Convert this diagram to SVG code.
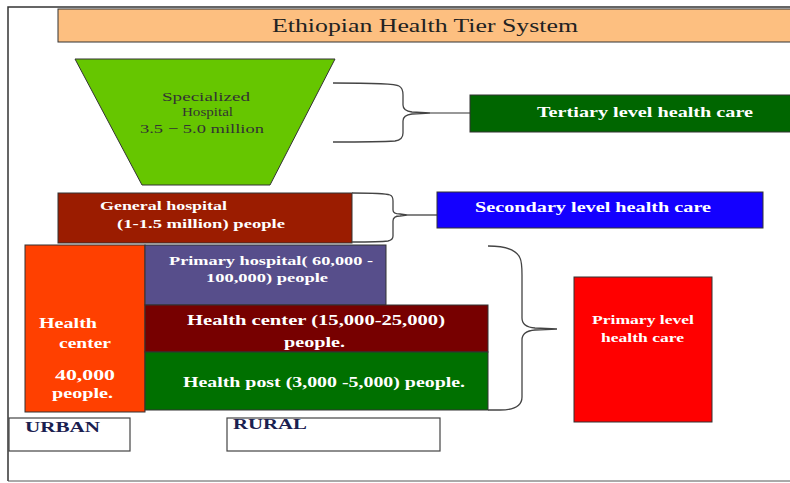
<svg xmlns="http://www.w3.org/2000/svg" width="790" height="483" viewBox="0 0 790 483">
<style>
text{font-family:"Liberation Serif","Times New Roman",serif}
.w{fill:#fff;font-weight:bold}
.bx{stroke:#333;stroke-width:1}
.br{fill:none;stroke:#444;stroke-width:1.3}
.lbl{fill:#1a2050;font-weight:bold;font-size:14px}
</style>
<rect x="0" y="0" width="790" height="483" fill="#fff"/>
<path d="M8,481 L8,7 L790,7" fill="none" stroke="#333" stroke-width="1.5"/>
<line x1="8" y1="481" x2="790" y2="481" stroke="#555" stroke-width="1"/>
<g id="title">
<rect x="58" y="9" width="740" height="33" fill="#fdbf80" class="bx"/>
<text x="272" y="32" font-size="19" fill="#222" textLength="306" lengthAdjust="spacingAndGlyphs">Ethiopian Health Tier System</text>
</g>
<g id="specialized">
<polygon points="75,59 335,59 270,185 142,185" fill="#66c600" class="bx"/>
<text x="162" y="101" font-size="13" fill="#333" textLength="88" lengthAdjust="spacingAndGlyphs">Specialized</text>
<text x="182" y="116" font-size="13" fill="#333" textLength="51" lengthAdjust="spacingAndGlyphs">Hospital</text>
<text x="140" y="133" font-size="13" fill="#333" textLength="124" lengthAdjust="spacingAndGlyphs">3.5 − 5.0 million</text>
</g>
<g id="tertiary">
<rect x="470" y="95" width="330" height="37" fill="#006600" class="bx"/>
<text x="537" y="117" font-size="15" class="w" textLength="216" lengthAdjust="spacingAndGlyphs">Tertiary  level health care</text>
</g>
<g id="general">
<rect x="58" y="193" width="294" height="50" fill="#9b1c00" class="bx"/>
<text x="100" y="210" font-size="13" class="w" textLength="127" lengthAdjust="spacingAndGlyphs">General hospital</text>
<text x="117" y="228" font-size="13" class="w" textLength="168" lengthAdjust="spacingAndGlyphs">(1-1.5 million) people</text>
</g>
<g id="secondary">
<rect x="437" y="192" width="326" height="36" fill="#1400ff" class="bx"/>
<text x="475" y="212" font-size="15" class="w" textLength="236" lengthAdjust="spacingAndGlyphs">Secondary level health care</text>
</g>
<g id="urban-hc">
<rect x="25" y="245" width="120" height="167" fill="#ff4000" class="bx"/>
<text x="39" y="328" font-size="14" class="w" textLength="58" lengthAdjust="spacingAndGlyphs">Health</text>
<text x="59" y="348" font-size="14" class="w" textLength="52" lengthAdjust="spacingAndGlyphs">center</text>
<text x="55" y="380" font-size="14" class="w" textLength="60" lengthAdjust="spacingAndGlyphs">40,000</text>
<text x="52" y="398" font-size="14" class="w" textLength="61" lengthAdjust="spacingAndGlyphs">people.</text>
</g>
<g id="primary-hospital">
<rect x="145" y="245" width="241" height="60" fill="#574e8b" class="bx"/>
<text x="169" y="265" font-size="12.5" class="w" textLength="204" lengthAdjust="spacingAndGlyphs">Primary hospital( 60,000 -</text>
<text x="206" y="282" font-size="12.5" class="w" textLength="122" lengthAdjust="spacingAndGlyphs">100,000) people</text>
</g>
<g id="rural-hc">
<rect x="145" y="305" width="343" height="47" fill="#770000" class="bx"/>
<text x="187" y="325" font-size="14" class="w" textLength="258" lengthAdjust="spacingAndGlyphs">Health center  (15,000-25,000)</text>
<text x="284" y="347" font-size="14" class="w" textLength="61" lengthAdjust="spacingAndGlyphs">people.</text>
</g>
<g id="health-post">
<rect x="145" y="352" width="343" height="58" fill="#007000" class="bx"/>
<text x="183" y="387" font-size="14" class="w" textLength="282" lengthAdjust="spacingAndGlyphs">Health post (3,000 -5,000) people.</text>
</g>
<g id="primary-level">
<rect x="574" y="277" width="138" height="145" fill="#ff0000" class="bx"/>
<text x="592" y="324" font-size="13" class="w" textLength="102" lengthAdjust="spacingAndGlyphs">Primary level</text>
<text x="601" y="342" font-size="13" class="w" textLength="83" lengthAdjust="spacingAndGlyphs">health care</text>
</g>
<g id="urban">
<rect x="9" y="418" width="121" height="33" fill="#fff" stroke="#444" stroke-width="1.2"/>
<text x="25" y="432" class="lbl" textLength="75" lengthAdjust="spacingAndGlyphs">URBAN</text>
</g>
<g id="rural">
<rect x="227" y="418" width="213" height="33" fill="#fff" stroke="#444" stroke-width="1.2"/>
<text x="233" y="429" class="lbl" textLength="74" lengthAdjust="spacingAndGlyphs">RURAL</text>
</g>
<g id="connectors">
<path class="br" d="M333,83 Q395,83 399,86 Q403,88 403,95 L403,105 Q403,111 412,112 L430,113 L412,114 Q403,115 403,121 L403,133 Q403,140 395,141 Q380,142 333,142"/>
<line x1="430" y1="113" x2="470" y2="113" stroke="#333" stroke-width="1.2"/>
<path class="br" d="M352,193 Q384,193 390,195 Q393,196 393,201 L393,210 Q393,214 400,214 L407,215 L400,216 Q393,216 393,221 L393,236 Q393,240 388,241 Q380,242 352,242"/>
<line x1="407" y1="215" x2="437" y2="215" stroke="#333" stroke-width="1.2"/>
<path class="br" d="M488,246 Q515,246 520,258 Q522,262 522,275 L522,318 Q522,327 535,328 L557,329 L535,330 Q522,331 522,340 L522,397 Q522,410 500,410 L488,410"/>
</g>
</svg>
